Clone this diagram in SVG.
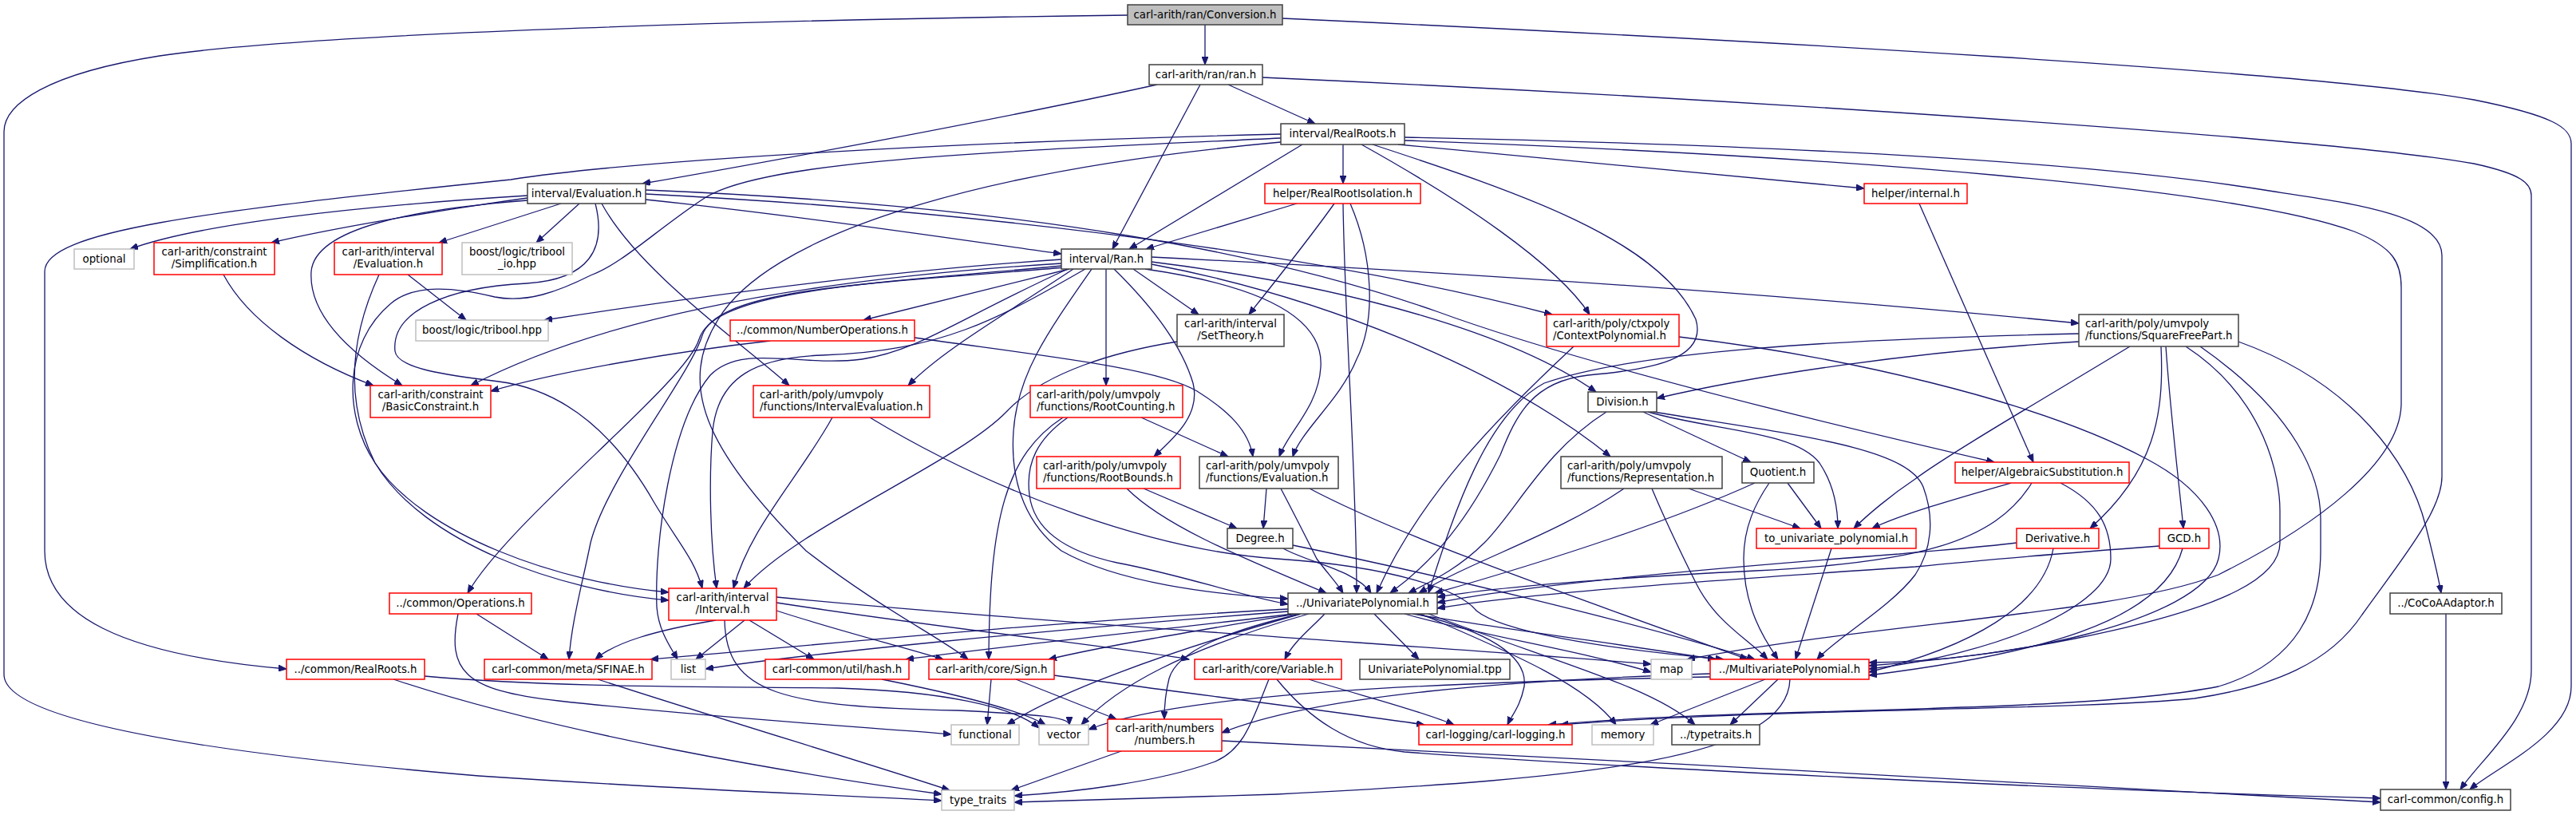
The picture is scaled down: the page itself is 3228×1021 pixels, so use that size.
<svg xmlns="http://www.w3.org/2000/svg" width="3228" height="1021" viewBox="0 0 3228 1021">
<defs>
<marker id="a" markerWidth="11" markerHeight="8" refX="10" refY="4" orient="auto" markerUnits="userSpaceOnUse"><path d="M0,0 L10,4 L0,8 z" fill="#191970" stroke="#191970" stroke-width="1"/></marker>
<style>
.e path{fill:none;stroke:#191970;stroke-width:1.3;marker-end:url(#a)}
.n rect{fill:#fff;stroke-width:1.5}
.k rect{stroke:#404040}
.r rect{stroke:#ff0000}
.g rect{stroke:#bfbfbf}
.root rect{fill:#bfbfbf;stroke:#404040}
text{font-family:"DejaVu Sans","Liberation Sans",sans-serif;font-size:13.33px;fill:#000}
.c{text-anchor:middle}
</style>
</defs>
<rect width="3228" height="1021" fill="#fff"/>
<g id="edges" class="e">
<path d="M1510,31 L1510,81"/>
<path d="M1413,19 C1000,24 400,40 200,70 C60,92 5,130 5,165 L5,845 C5,905 280,945 600,972 C900,992 1100,998 1180,1003"/>
<path d="M1607,23 C2200,50 2900,90 3100,125 C3200,145 3222,160 3222,180 L3222,860 C3222,920 3130,960 3095,989"/>
<path d="M1450,106 C1250,150 950,205 805,230"/>
<path d="M1504,106 L1394,312"/>
<path d="M1539,106 L1648,155"/>
<path d="M1582,97 C2100,120 2900,170 3100,205 C3160,218 3172,230 3172,245 L3172,840 C3172,900 3110,950 3083,989"/>
<path d="M1632,181 L1415,312"/>
<path d="M1683,181 L1683,230"/>
<path d="M1752,181 L2336,236"/>
<path d="M1706,181 C1830,250 1950,330 1992,394"/>
<path d="M1720,181 C1900,240 2080,300 2125,400 C2140,450 2070,463 1990,470 C1920,478 1900,520 1880,570 C1840,650 1800,700 1742,743"/>
<path d="M1605,178 C1200,215 960,300 900,400 C850,480 880,560 1010,690 C1100,760 1180,800 1213,826"/>
<path d="M1760,176 C2300,195 2800,235 2950,290 C3000,310 3009,330 3009,360 L3009,505 C3009,580 2900,660 2780,720 C2650,770 2350,780 2114,826"/>
<path d="M1760,172 C2400,185 2700,215 2850,240 C2950,255 3060,270 3060,320 L3060,597 C3060,640 3010,700 2960,770 C2920,830 2850,860 2750,875 C2600,890 2200,888 1955,908"/>
<path d="M1605,168 C1200,178 800,200 640,225 C250,265 56,290 56,340 L56,690 C56,770 150,820 359,838"/>
<path d="M1605,173 C1250,190 950,200 880,250 C820,290 780,330 740,345 C700,365 660,380 620,372 C570,360 520,355 490,380 C430,430 430,520 470,580 C530,670 700,730 838,742"/>
<path d="M661,245 C450,258 250,280 163,312"/>
<path d="M661,248 C560,262 420,285 340,304"/>
<path d="M703,255 L550,304"/>
<path d="M726,255 L672,304"/>
<path d="M661,251 C520,262 395,285 390,340 C386,400 450,450 504,483"/>
<path d="M809,250 C1000,270 1200,300 1330,318"/>
<path d="M746,255 C760,310 740,350 660,355 C560,360 490,390 495,440 C498,462 560,470 625,478 C720,490 780,560 820,630 C850,680 870,700 880,737"/>
<path d="M754,255 C800,340 930,430 989,483"/>
<path d="M809,238 C1300,258 1600,320 1800,390 C1950,445 2200,510 2499,579"/>
<path d="M809,243 C1300,268 1700,330 1945,394"/>
<path d="M1330,325 C1100,340 850,375 682,401"/>
<path d="M1330,330 C1000,350 750,400 590,483"/>
<path d="M1340,337 L1082,401"/>
<path d="M1345,337 C1250,400 1180,440 1138,483"/>
<path d="M1386,337 L1386,483"/>
<path d="M1396,337 C1440,380 1480,430 1495,480 C1505,520 1470,550 1446,572"/>
<path d="M1420,337 L1502,394"/>
<path d="M1435,337 C1560,355 1660,390 1655,460 C1652,510 1615,540 1603,572"/>
<path d="M1443,328 C1700,360 1900,420 2000,491"/>
<path d="M1443,331 C1650,370 1880,460 2018,572"/>
<path d="M1443,322 C1900,345 2300,375 2605,405"/>
<path d="M1330,333 C1100,355 895,362 876,425 C860,480 640,650 586,743"/>
<path d="M1335,335 C1100,355 900,360 880,420 C865,470 760,600 740,680 C730,730 716,780 713,826"/>
<path d="M1338,337 C1200,400 1150,440 1080,450 C1000,460 930,430 890,470 C840,530 820,680 823,760 C825,790 840,810 849,826"/>
<path d="M1360,337 C1250,400 1180,440 1030,445 C950,448 900,470 893,540 C888,600 890,680 898,737"/>
<path d="M1368,337 C1310,420 1275,470 1270,540 C1265,610 1290,660 1330,690 C1400,730 1520,745 1614,750"/>
<path d="M1625,255 L1436,312"/>
<path d="M1672,255 C1640,300 1600,350 1565,394"/>
<path d="M1692,255 C1720,320 1725,400 1700,450 C1680,500 1630,540 1620,572"/>
<path d="M1683,255 C1685,400 1700,600 1700,743"/>
<path d="M2405,255 L2548,579"/>
<path d="M280,344 C310,400 380,450 468,483"/>
<path d="M511,344 L584,401"/>
<path d="M475,344 C440,420 430,500 470,580 C530,680 700,740 838,752"/>
<path d="M1475,428 C1400,440 1310,465 1262,515 C1200,580 1000,660 932,737"/>
<path d="M965,427 C850,440 700,465 615,490"/>
<path d="M1146,423 C1300,445 1450,460 1500,490 C1540,515 1565,540 1570,572"/>
<path d="M1043,523 C1000,600 940,660 919,737"/>
<path d="M1090,523 C1250,620 1450,690 1600,700 C1750,710 1830,740 1850,765 C1880,790 2000,812 2160,826"/>
<path d="M1430,523 L1539,572"/>
<path d="M1332,523 C1260,570 1240,650 1239,826"/>
<path d="M1338,523 C1300,550 1285,580 1290,620 C1295,660 1330,690 1400,705 C1480,720 1550,745 1614,757"/>
<path d="M1433,612 L1550,662"/>
<path d="M1412,612 C1460,660 1560,700 1662,743"/>
<path d="M1587,612 L1583,662"/>
<path d="M1605,612 C1625,650 1640,680 1650,700 C1665,720 1675,730 1683,743"/>
<path d="M1641,612 C1750,670 1950,740 2190,826"/>
<path d="M1608,687 C1640,705 1700,715 1718,743"/>
<path d="M1620,683 C1800,720 2050,780 2199,826"/>
<path d="M2059,516 L2194,579"/>
<path d="M2065,516 C2150,540 2250,540 2280,580 C2300,610 2303,640 2303,662"/>
<path d="M2072,516 C2250,545 2390,560 2410,610 C2425,650 2420,690 2400,720 C2370,760 2300,800 2277,826"/>
<path d="M2013,516 C1935,565 1900,640 1860,680 C1830,710 1800,725 1765,743"/>
<path d="M2116,612 L2256,662"/>
<path d="M2035,612 C1950,670 1850,700 1778,743"/>
<path d="M2070,612 C2090,660 2110,700 2125,730 C2150,780 2190,800 2215,826"/>
<path d="M2240,605 L2282,662"/>
<path d="M2199,605 C2100,650 1950,700 1798,743"/>
<path d="M2217,605 C2200,630 2185,660 2185,700 C2185,760 2210,800 2228,826"/>
<path d="M2295,687 L2250,826"/>
<path d="M1972,434 C1880,520 1780,620 1725,743"/>
<path d="M2104,422 C2300,445 2550,500 2690,575 C2760,612 2790,660 2780,700 C2760,780 2500,830 2342,830"/>
<path d="M2605,428 C2400,440 2200,470 2076,499"/>
<path d="M2669,434 C2560,500 2440,570 2400,600 C2370,620 2340,645 2323,662"/>
<path d="M2708,434 C2712,520 2700,590 2619,662"/>
<path d="M2714,434 C2720,520 2730,600 2736,662"/>
<path d="M2805,428 C2950,480 3020,580 3040,660 C3050,700 3055,720 3059,743"/>
<path d="M2739,434 C2840,500 2857,600 2857,640 L2857,680 C2857,720 2800,760 2600,800 C2500,820 2400,830 2342,834"/>
<path d="M2757,434 C2880,520 2908,600 2908,650 L2908,690 C2908,760 2880,830 2780,860 C2600,895 2200,885 1940,908"/>
<path d="M2605,418 C2300,425 2050,440 1935,480 C1860,520 1820,650 1790,743"/>
<path d="M2520,605 C2450,625 2380,645 2346,662"/>
<path d="M2546,605 C2500,680 2400,705 2200,715 C2000,725 1880,735 1801,748"/>
<path d="M2582,605 C2630,630 2645,660 2645,700 C2645,760 2500,820 2342,838"/>
<path d="M2527,680 C2480,686 2420,690 2380,694 C2100,715 1900,735 1801,755"/>
<path d="M2573,687 C2560,760 2470,810 2342,842"/>
<path d="M2706,684 C2600,692 2500,700 2400,710 C2100,730 1900,745 1801,762"/>
<path d="M2735,687 C2710,780 2550,820 2342,846"/>
<path d="M3065,769 L3065,989"/>
<path d="M597,769 L687,826"/>
<path d="M574,769 C560,840 580,865 700,878 C900,900 1100,912 1192,920"/>
<path d="M493,851 C700,920 1000,970 1180,995"/>
<path d="M532,847 C700,862 900,860 1050,862 C1180,866 1270,885 1302,912"/>
<path d="M749,851 C900,900 1100,960 1190,990"/>
<path d="M897,777 C820,790 770,805 746,826"/>
<path d="M933,777 L872,826"/>
<path d="M939,777 L1020,826"/>
<path d="M973,765 C1050,790 1130,810 1182,826"/>
<path d="M973,755 C1200,790 1400,810 1490,826"/>
<path d="M973,748 C1300,780 1800,810 2069,832"/>
<path d="M908,777 C910,870 980,885 1200,890 C1300,895 1340,898 1340,908"/>
<path d="M1660,769 C1640,790 1620,805 1610,826"/>
<path d="M1722,769 L1778,826"/>
<path d="M1760,769 C1850,795 1980,815 2069,842"/>
<path d="M1770,769 C1900,790 2050,810 2150,826"/>
<path d="M1780,769 C1900,820 1990,860 2025,908"/>
<path d="M1790,769 C1950,830 2070,860 2124,908"/>
<path d="M1775,769 C1860,790 1915,820 1910,860 C1905,885 1895,895 1889,908"/>
<path d="M1614,763 C1300,780 1000,810 815,826"/>
<path d="M1614,766 C1300,790 1000,820 884,838"/>
<path d="M1620,769 C1450,790 1250,810 1135,826"/>
<path d="M1625,769 C1500,790 1380,810 1314,826"/>
<path d="M1630,769 C1450,820 1320,870 1262,908"/>
<path d="M1640,769 C1480,815 1400,860 1355,908"/>
<path d="M1630,769 C1540,790 1475,815 1465,850 C1460,870 1459,885 1459,901"/>
<path d="M1590,851 C1570,900 1560,940 1520,955 C1450,980 1350,992 1271,997"/>
<path d="M1640,851 C1700,870 1780,890 1822,908"/>
<path d="M1600,851 C1640,900 1690,935 1760,942 C2000,960 2600,990 2983,1000"/>
<path d="M1405,941 L1267,990"/>
<path d="M1531,928 C2000,950 2600,985 2983,1005"/>
<path d="M1242,851 L1237,908"/>
<path d="M1273,851 L1399,901"/>
<path d="M1321,846 C1500,870 1700,895 1785,908"/>
<path d="M1105,851 C1200,870 1280,890 1310,908"/>
<path d="M2143,844 C1900,852 1650,870 1531,918"/>
<path d="M2212,851 L2068,908"/>
<path d="M2228,851 L2168,908"/>
<path d="M2243,851 C2240,950 2000,975 1600,995 C1450,1000 1350,1003 1271,1005"/>
<path d="M2143,848 C1800,855 1480,868 1364,914"/>
</g>
<g id="node-conversion" class="n root"><rect x="1413" y="6" width="194" height="25"/><text class="c" x="1510" y="23">carl-arith/ran/Conversion.h</text></g>
<g id="node-ran" class="n k"><rect x="1440" y="81" width="142" height="25"/><text class="c" x="1511" y="98">carl-arith/ran/ran.h</text></g>
<g id="node-realroots" class="n k"><rect x="1605" y="155" width="155" height="26"/><text class="c" x="1682.5" y="172">interval/RealRoots.h</text></g>
<g id="node-evaluation" class="n k"><rect x="661" y="230" width="148" height="25"/><text class="c" x="735" y="247">interval/Evaluation.h</text></g>
<g id="node-ranh" class="n k"><rect x="1330" y="312" width="113" height="25"/><text class="c" x="1386.5" y="329">interval/Ran.h</text></g>
<g id="node-rri" class="n r"><rect x="1585" y="230" width="195" height="25"/><text class="c" x="1682.5" y="247">helper/RealRootIsolation.h</text></g>
<g id="node-internal" class="n r"><rect x="2336" y="230" width="129" height="25"/><text class="c" x="2400.5" y="247">helper/internal.h</text></g>
<g id="node-optional" class="n g"><rect x="93" y="312" width="75" height="25"/><text class="c" x="130.5" y="329">optional</text></g>
<g id="node-simplification" class="n r"><rect x="193" y="304" width="151" height="40"/><text class="c" x="268.5" y="320">carl-arith/constraint</text><text class="c" x="268.5" y="335">/Simplification.h</text></g>
<g id="node-ivevaluation" class="n r"><rect x="419" y="304" width="135" height="40"/><text class="c" x="486.5" y="320">carl-arith/interval</text><text class="c" x="486.5" y="335">/Evaluation.h</text></g>
<g id="node-triboolio" class="n g"><rect x="579" y="304" width="138" height="40"/><text class="c" x="648" y="320">boost/logic/tribool</text><text class="c" x="648" y="335">_io.hpp</text></g>
<g id="node-tribool" class="n g"><rect x="521" y="401" width="166" height="26"/><text class="c" x="604" y="418">boost/logic/tribool.hpp</text></g>
<g id="node-basicconstraint" class="n r"><rect x="464" y="483" width="151" height="40"/><text class="c" x="539.5" y="499">carl-arith/constraint</text><text class="c" x="539.5" y="514">/BasicConstraint.h</text></g>
<g id="node-numberops" class="n r"><rect x="915" y="401" width="231" height="26"/><text class="c" x="1030.5" y="418">../common/NumberOperations.h</text></g>
<g id="node-intervaleval" class="n r"><rect x="944" y="483" width="221" height="40"/><text x="952" y="499">carl-arith/poly/umvpoly</text><text x="952" y="514">/functions/IntervalEvaluation.h</text></g>
<g id="node-rootcounting" class="n r"><rect x="1291" y="483" width="191" height="40"/><text x="1299" y="499">carl-arith/poly/umvpoly</text><text x="1299" y="514">/functions/RootCounting.h</text></g>
<g id="node-settheory" class="n k"><rect x="1475" y="394" width="134" height="40"/><text class="c" x="1542" y="410">carl-arith/interval</text><text class="c" x="1542" y="425">/SetTheory.h</text></g>
<g id="node-rootbounds" class="n r"><rect x="1299" y="572" width="180" height="40"/><text x="1307" y="588">carl-arith/poly/umvpoly</text><text x="1307" y="603">/functions/RootBounds.h</text></g>
<g id="node-funceval" class="n k"><rect x="1503" y="572" width="174" height="40"/><text x="1511" y="588">carl-arith/poly/umvpoly</text><text x="1511" y="603">/functions/Evaluation.h</text></g>
<g id="node-degree" class="n k"><rect x="1538" y="662" width="82" height="25"/><text class="c" x="1579" y="679">Degree.h</text></g>
<g id="node-contextpoly" class="n r"><rect x="1938" y="394" width="166" height="40"/><text x="1946" y="410">carl-arith/poly/ctxpoly</text><text x="1946" y="425">/ContextPolynomial.h</text></g>
<g id="node-division" class="n k"><rect x="1990" y="491" width="86" height="25"/><text class="c" x="2033" y="508">Division.h</text></g>
<g id="node-representation" class="n k"><rect x="1956" y="572" width="202" height="40"/><text x="1964" y="588">carl-arith/poly/umvpoly</text><text x="1964" y="603">/functions/Representation.h</text></g>
<g id="node-quotient" class="n k"><rect x="2183" y="579" width="90" height="26"/><text class="c" x="2228" y="596">Quotient.h</text></g>
<g id="node-touni" class="n r"><rect x="2201" y="662" width="200" height="25"/><text class="c" x="2301" y="679">to_univariate_polynomial.h</text></g>
<g id="node-squarefree" class="n k"><rect x="2605" y="394" width="200" height="40"/><text x="2613" y="410">carl-arith/poly/umvpoly</text><text x="2613" y="425">/functions/SquareFreePart.h</text></g>
<g id="node-algsubst" class="n r"><rect x="2450" y="579" width="218" height="26"/><text class="c" x="2559" y="596">helper/AlgebraicSubstitution.h</text></g>
<g id="node-derivative" class="n r"><rect x="2527" y="662" width="103" height="25"/><text class="c" x="2578.5" y="679">Derivative.h</text></g>
<g id="node-gcd" class="n r"><rect x="2706" y="662" width="62" height="25"/><text class="c" x="2737" y="679">GCD.h</text></g>
<g id="node-cocoa" class="n k"><rect x="2995" y="743" width="140" height="26"/><text class="c" x="3065" y="760">../CoCoAAdaptor.h</text></g>
<g id="node-config" class="n k"><rect x="2983" y="989" width="163" height="26"/><text class="c" x="3064.5" y="1006">carl-common/config.h</text></g>
<g id="node-operations" class="n r"><rect x="488" y="743" width="178" height="26"/><text class="c" x="577" y="760">../common/Operations.h</text></g>
<g id="node-commonrealroots" class="n r"><rect x="359" y="826" width="173" height="25"/><text class="c" x="445.5" y="843">../common/RealRoots.h</text></g>
<g id="node-sfinae" class="n r"><rect x="607" y="826" width="210" height="25"/><text class="c" x="712" y="843">carl-common/meta/SFINAE.h</text></g>
<g id="node-interval" class="n r"><rect x="838" y="737" width="135" height="40"/><text class="c" x="905.5" y="753">carl-arith/interval</text><text class="c" x="905.5" y="768">/Interval.h</text></g>
<g id="node-list" class="n g"><rect x="841" y="826" width="43" height="25"/><text class="c" x="862.5" y="843">list</text></g>
<g id="node-hash" class="n r"><rect x="959" y="826" width="180" height="25"/><text class="c" x="1049" y="843">carl-common/util/hash.h</text></g>
<g id="node-sign" class="n r"><rect x="1164" y="826" width="157" height="25"/><text class="c" x="1242.5" y="843">carl-arith/core/Sign.h</text></g>
<g id="node-variable" class="n r"><rect x="1497" y="826" width="184" height="25"/><text class="c" x="1589" y="843">carl-arith/core/Variable.h</text></g>
<g id="node-functional" class="n g"><rect x="1192" y="908" width="85" height="25"/><text class="c" x="1234.5" y="925">functional</text></g>
<g id="node-vector" class="n g"><rect x="1302" y="908" width="62" height="25"/><text class="c" x="1333" y="925">vector</text></g>
<g id="node-numbers" class="n r"><rect x="1388" y="901" width="143" height="40"/><text class="c" x="1459.5" y="917">carl-arith/numbers</text><text class="c" x="1459.5" y="932">/numbers.h</text></g>
<g id="node-typetraits-std" class="n g"><rect x="1180" y="990" width="91" height="25"/><text class="c" x="1225.5" y="1007">type_traits</text></g>
<g id="node-univariate" class="n k"><rect x="1614" y="743" width="187" height="26"/><text class="c" x="1707.5" y="760">../UnivariatePolynomial.h</text></g>
<g id="node-tpp" class="n k"><rect x="1704" y="826" width="188" height="25"/><text class="c" x="1798" y="843">UnivariatePolynomial.tpp</text></g>
<g id="node-map" class="n g"><rect x="2069" y="826" width="51" height="25"/><text class="c" x="2094.5" y="843">map</text></g>
<g id="node-multivariate" class="n r"><rect x="2143" y="826" width="199" height="25"/><text class="c" x="2242.5" y="843">../MultivariatePolynomial.h</text></g>
<g id="node-logging" class="n r"><rect x="1778" y="908" width="192" height="25"/><text class="c" x="1874" y="925">carl-logging/carl-logging.h</text></g>
<g id="node-memory" class="n g"><rect x="1995" y="908" width="77" height="25"/><text class="c" x="2033.5" y="925">memory</text></g>
<g id="node-typetraits" class="n k"><rect x="2095" y="908" width="110" height="25"/><text class="c" x="2150" y="925">../typetraits.h</text></g>
</svg>
